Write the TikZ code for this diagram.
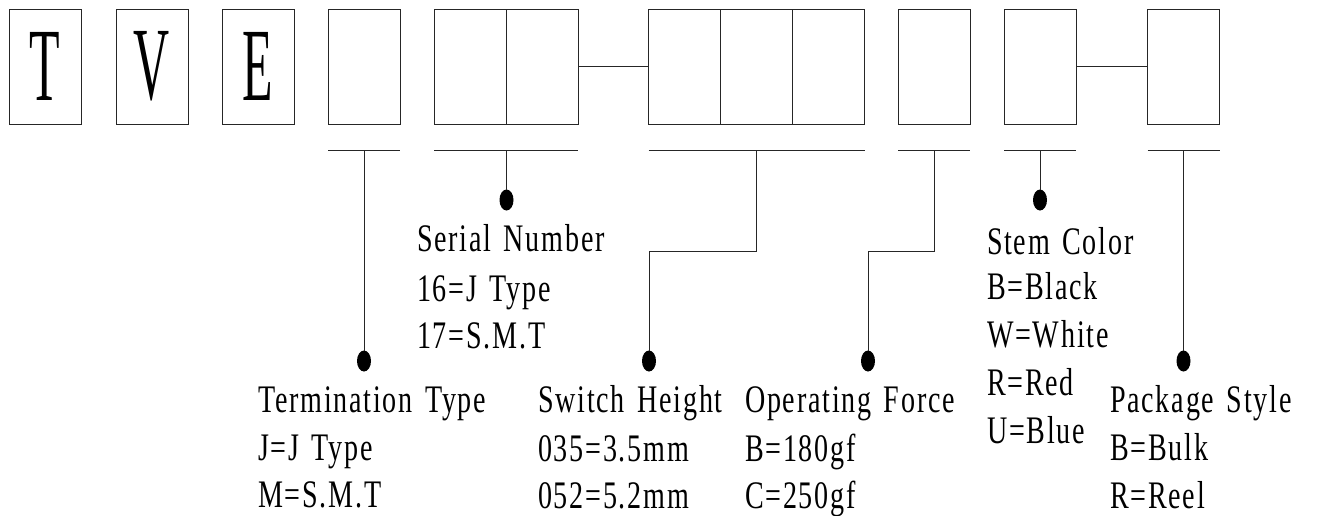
\documentclass[tikz,border=0pt]{standalone}
\usepackage{fontspec}
\setmainfont{Liberation Serif}[FakeStretch=0.72, LetterSpace=4.6, WordSpace=1.4]
\newfontfamily\bigfont{Liberation Serif}[FakeStretch=0.48]
\usetikzlibrary{shapes.geometric}
\begin{document}
\begin{tikzpicture}[x=1pt,y=-1pt,
  box/.style={draw=black!85, line width=0.9pt, minimum width=72pt, minimum height=115pt, inner sep=0pt, outer sep=0pt},
  bigl/.style={font=\bigfont\fontsize{104}{104}\selectfont},
  lbl/.style={anchor=base west, inner sep=0pt, outer sep=0pt, font=\fontsize{39}{39}\selectfont},
  blob/.style={ellipse, fill=black, minimum width=14pt, minimum height=21pt, inner sep=0pt, outer sep=0pt},
  wire/.style={draw=black!85, line width=0.9pt}]
\useasboundingbox (0,0) rectangle (1317,515);
% boxes
\node[box,bigl] (b1) at (45,66.5) {T};
\node[box,bigl] (b2) at (152,66.5) {V};
\node[box,bigl] (b3) at (258,66.5) {E};
\node[box] (b4) at (364,66.5) {};
\node[box] (b5a) at (470,66.5) {};
\node[box] (b5b) at (542,66.5) {};
\node[box] (b6a) at (684.5,66.5) {};
\node[box] (b6b) at (756.5,66.5) {};
\node[box] (b6c) at (828.5,66.5) {};
\node[box] (b7) at (934,66.5) {};
\node[box] (b8) at (1040,66.5) {};
\node[box] (b9) at (1183.5,66.5) {};
\draw[wire] (b5b.east) -- (b6a.west);
\draw[wire] (b8.east) -- (b9.west);
% bar midpoints
\coordinate (m4) at (364,150);
\coordinate (m5) at (506.5,150);
\coordinate (m6) at (756,150);
\coordinate (m7) at (934,150);
\coordinate (m8) at (1040,150);
\coordinate (m9) at (1183.5,150);
\draw[wire] (b4.south west |- m4) -- (b4.south east |- m4);
\draw[wire] (b5a.south west |- m5) -- (b5b.south east |- m5);
\draw[wire] (b6a.south west |- m6) -- (b6c.south east |- m6);
\draw[wire] (b7.south west |- m7) -- (b7.south east |- m7);
\draw[wire] (b8.south west |- m8) -- (b8.south east |- m8);
\draw[wire] (b9.south west |- m9) -- (b9.south east |- m9);
% dots
\node[blob] (d1) at (364,361) {};
\node[blob] (d2) at (506.5,200) {};
\node[blob] (d3) at (649,361) {};
\node[blob] (d4) at (868,361) {};
\node[blob] (d5) at (1040,200) {};
\node[blob] (d6) at (1183.5,361) {};
\coordinate (k6) at (756,251);
\coordinate (k7) at (934,251);
\draw[wire] (m4) -- (d1);
\draw[wire] (m5) -- (d2);
\draw[wire] (m6) -- (k6) -| (d3);
\draw[wire] (m7) -- (k7) -| (d4);
\draw[wire] (m8) -- (d5);
\draw[wire] (m9) -- (d6);
% labels
\node[lbl] (t1) at (258,412) {Termination Type};
\node[lbl] (t2) at (258,460) {J=J Type};
\node[lbl] (t3) at (258,507) {M=S.M.T};
\node[lbl] (s1) at (417,251) {Serial Number};
\node[lbl] (s2) at (417,301) {16=J Type};
\node[lbl] (s3) at (417,348) {17=S.M.T};
\node[lbl] (h1) at (538,412) {Switch Height};
\node[lbl] (h2) at (538,461) {035=3.5mm};
\node[lbl] (h3) at (538,508) {052=5.2mm};
\node[lbl] (f1) at (745,412) {Operating Force};
\node[lbl] (f2) at (745,461) {B=180gf};
\node[lbl] (f3) at (745,508) {C=250gf};
\node[lbl] (c1) at (987,254) {Stem Color};
\node[lbl] (c2) at (987,299) {B=Black};
\node[lbl] (c3) at (987,347) {W=White};
\node[lbl] (c4) at (987,395) {R=Red};
\node[lbl] (c5) at (987,443) {U=Blue};
\node[lbl] (p1) at (1110,412) {Package Style};
\node[lbl] (p2) at (1110,460) {B=Bulk};
\node[lbl] (p3) at (1110,508) {R=Reel};
\end{tikzpicture}
\end{document}
